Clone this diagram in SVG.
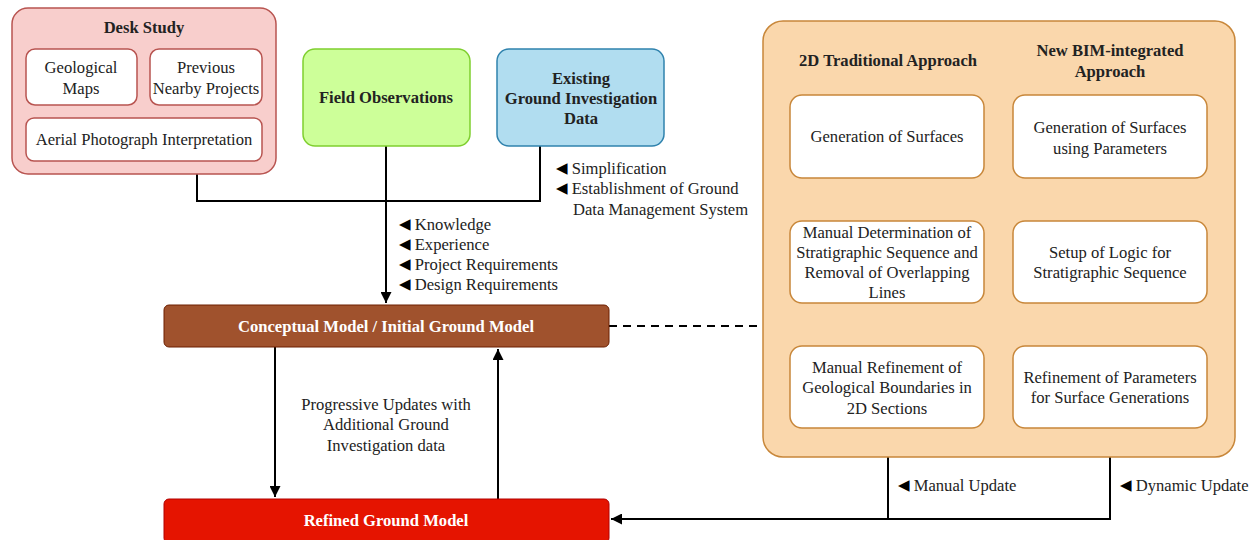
<svg xmlns="http://www.w3.org/2000/svg" width="1260" height="540" viewBox="0 0 1260 540">
<style>
text{font-family:"Liberation Serif","Times New Roman",serif;font-size:16.6px;fill:#222;dominant-baseline:central}
.c{text-anchor:middle}
.b{font-weight:bold}
.w{fill:#fff}
.tri{font-family:"DejaVu Sans",sans-serif;font-size:15px;fill:#000}
.ds{fill:#f8cecc;stroke:#b85450;stroke-width:1.5}
.dsi{fill:#fff;stroke:#b85450;stroke-width:1.5}
.or{fill:#fad7ac;stroke:#c8873a;stroke-width:1.5}
.ori{fill:#fff;stroke:#c8873a;stroke-width:1.5}
.ln{fill:none;stroke:#000;stroke-width:2}
</style>
<defs>
<marker id="ah" viewBox="0 0 10 10" refX="10" refY="5" markerWidth="5.5" markerHeight="5.5" orient="auto"><path d="M0,0L10,5L0,10z" fill="#000"/></marker>
</defs>

<g id="connectors">
<polyline class="ln" points="197,174 197,201 540,201 540,146"/>
<line class="ln" x1="386" y1="146" x2="386" y2="303" marker-end="url(#ah)"/>
<line class="ln" x1="275" y1="347" x2="275" y2="497" marker-end="url(#ah)"/>
<line class="ln" x1="498" y1="499" x2="498" y2="349" marker-end="url(#ah)"/>
<line class="ln" x1="609" y1="326" x2="763" y2="326" stroke-dasharray="8,6"/>
<line class="ln" x1="888" y1="178" x2="888" y2="219" marker-end="url(#ah)"/>
<line class="ln" x1="888" y1="303" x2="888" y2="344" marker-end="url(#ah)"/>
<line class="ln" x1="1110" y1="178" x2="1110" y2="219" marker-end="url(#ah)"/>
<line class="ln" x1="1110" y1="303" x2="1110" y2="344" marker-end="url(#ah)"/>
<polyline class="ln" points="888,428 888,519"/>
<polyline class="ln" points="1110,428 1110,519 611,519" marker-end="url(#ah)"/>
</g>

<g id="labels">
<text x="556" y="168"><tspan class="tri">◀</tspan> Simplification</text>
<text x="556" y="188"><tspan class="tri">◀</tspan> Establishment of Ground</text>
<text x="573" y="209">Data Management System</text>
<text x="399" y="224"><tspan class="tri">◀</tspan> Knowledge</text>
<text x="399" y="244"><tspan class="tri">◀</tspan> Experience</text>
<text x="399" y="264"><tspan class="tri">◀</tspan> Project Requirements</text>
<text x="399" y="284"><tspan class="tri">◀</tspan> Design Requirements</text>
<text class="c" x="386" y="404">Progressive Updates with</text>
<text class="c" x="386" y="424">Additional Ground</text>
<text class="c" x="386" y="445">Investigation data</text>
<text x="898" y="485"><tspan class="tri">◀</tspan> Manual Update</text>
<text x="1120" y="485"><tspan class="tri">◀</tspan> Dynamic Update</text>
</g>

<g id="desk-study">
<rect class="ds" x="12" y="8" width="264" height="166" rx="16"/>
<text class="c b" x="144" y="27">Desk Study</text>
</g>
<g id="geological-maps">
<rect class="dsi" x="26" y="49" width="111" height="56" rx="9"/>
<text class="c" x="81" y="67">Geological</text>
<text class="c" x="81" y="88">Maps</text>
</g>
<g id="previous-projects">
<rect class="dsi" x="150" y="49" width="112" height="56" rx="9"/>
<text class="c" x="206" y="67">Previous</text>
<text class="c" x="206" y="88">Nearby Projects</text>
</g>
<g id="aerial">
<rect class="dsi" x="26" y="118" width="236" height="43" rx="8"/>
<text class="c" x="144" y="139">Aerial Photograph Interpretation</text>
</g>

<g id="field-observations">
<rect x="303" y="49" width="167" height="97" rx="12" fill="#cdff99" stroke="#7fcf2f" stroke-width="1.5"/>
<text class="c b" x="386" y="97">Field Observations</text>
</g>
<g id="existing-gi">
<rect x="497" y="49" width="167" height="97" rx="12" fill="#b1ddf0" stroke="#2f82ad" stroke-width="1.5"/>
<text class="c b" x="581" y="78">Existing</text>
<text class="c b" x="581" y="98">Ground Investigation</text>
<text class="c b" x="581" y="118">Data</text>
</g>

<g id="conceptual-model">
<rect x="164" y="305" width="445" height="42" rx="5" fill="#a0522d" stroke="#6d1f00" stroke-width="1"/>
<text class="c b w" x="386" y="326">Conceptual Model / Initial Ground Model</text>
</g>
<g id="refined-model">
<rect x="164" y="499" width="445" height="44" rx="5" fill="#e51400" stroke="#b20000" stroke-width="1"/>
<text class="c b w" x="386" y="520">Refined Ground Model</text>
</g>

<g id="approaches">
<rect class="or" x="763" y="21" width="472" height="436" rx="20"/>
<text class="c b" x="888" y="60">2D Traditional Approach</text>
<text class="c b" x="1110" y="50">New BIM-integrated</text>
<text class="c b" x="1110" y="71">Approach</text>
</g>
<g id="trad-1">
<rect class="ori" x="790" y="95" width="194" height="83" rx="12"/>
<text class="c" x="887" y="136">Generation of Surfaces</text>
</g>
<g id="trad-2">
<rect class="ori" x="790" y="221" width="194" height="82" rx="12"/>
<text class="c" x="887" y="232">Manual Determination of</text>
<text class="c" x="887" y="252">Stratigraphic Sequence and</text>
<text class="c" x="887" y="272">Removal of Overlapping</text>
<text class="c" x="887" y="292">Lines</text>
</g>
<g id="trad-3">
<rect class="ori" x="790" y="346" width="194" height="82" rx="12"/>
<text class="c" x="887" y="367">Manual Refinement of</text>
<text class="c" x="887" y="387">Geological Boundaries in</text>
<text class="c" x="887" y="408">2D Sections</text>
</g>
<g id="bim-1">
<rect class="ori" x="1013" y="95" width="194" height="83" rx="12"/>
<text class="c" x="1110" y="127">Generation of Surfaces</text>
<text class="c" x="1110" y="148">using Parameters</text>
</g>
<g id="bim-2">
<rect class="ori" x="1013" y="221" width="194" height="82" rx="12"/>
<text class="c" x="1110" y="252">Setup of Logic for</text>
<text class="c" x="1110" y="272">Stratigraphic Sequence</text>
</g>
<g id="bim-3">
<rect class="ori" x="1013" y="346" width="194" height="82" rx="12"/>
<text class="c" x="1110" y="377">Refinement of Parameters</text>
<text class="c" x="1110" y="397">for Surface Generations</text>
</g>
</svg>
